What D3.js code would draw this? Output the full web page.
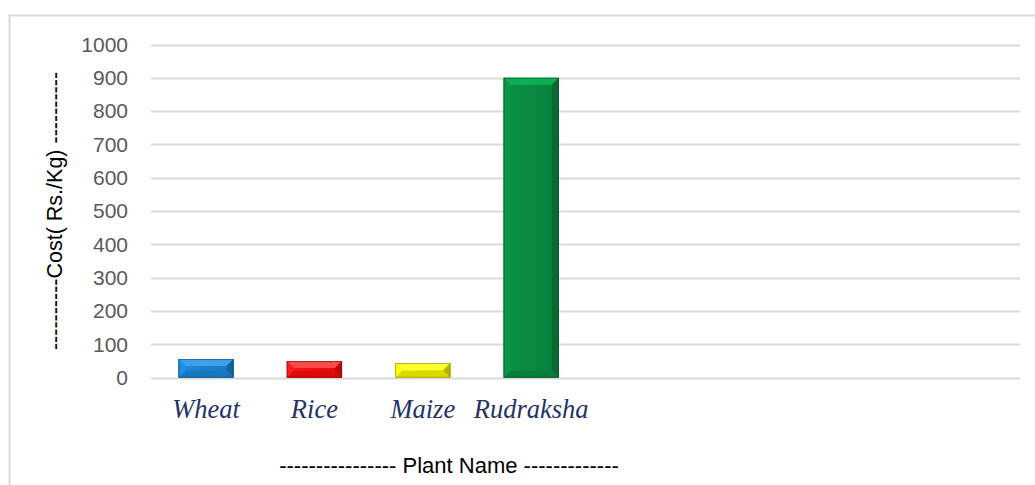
<!DOCTYPE html>
<html><head><meta charset="utf-8">
<script src="https://cdn.jsdelivr.net/npm/d3@7"></script>
<style>html,body{margin:0;padding:0;background:#fff;}svg{display:block;}</style>
</head><body>
<script>
const categories = ["Wheat", "Rice", "Maize", "Rudraksha"];
const costs = [56, 50, 44, 900];
const barColors = ["#1884d4", "#f50d0d", "#f2f200", "#0a8c42"];
const yTicks = [0, 100, 200, 300, 400, 500, 600, 700, 800, 900, 1000];
const yTitle = "----------Cost( Rs./Kg) ----------";
const xTitle = "---------------- Plant Name -------------";

const W = 1035, H = 485;
const svg = d3.select("body").append("svg").attr("width", W).attr("height", H);

// frame
svg.append("path").attr("d", `M9.5,${H+5} V15.5 H${W+5}`)
  .attr("fill", "none").attr("stroke", "#d9d9d9").attr("stroke-width", 2);

const plotL = 151, plotR = 1020;
const y = d3.scaleLinear().domain([0, 1000]).range([377.7, 44.5]);
const x = d3.scaleBand().domain(categories).range([151.8, 585.4]).paddingInner(0.49).paddingOuter(0.245);

// grid
svg.append("g").selectAll("line").data(yTicks).join("line")
  .attr("x1", plotL).attr("x2", plotR)
  .attr("y1", d => Math.round(y(d)) + 0.5).attr("y2", d => Math.round(y(d)) + 0.5)
  .attr("stroke", "#d9d9d9").attr("stroke-width", 2);

// y axis labels
const yAxis = d3.axisLeft(y).tickValues(yTicks).tickFormat(d3.format("d")).tickSize(0).tickPadding(0);
const gy = svg.append("g").attr("transform", "translate(128,0)").call(yAxis);
gy.select(".domain").remove();
gy.selectAll("text").attr("font-family", "'Liberation Sans', Arial, sans-serif")
  .attr("font-size", 21).attr("fill", "#595959");

// bars with bevel
const defs = svg.append("defs");
function shade(c, k) { const h = d3.hsl(c); h.l = Math.max(0, Math.min(1, h.l * k)); return h.formatHex(); }
const bars = svg.append("g");
categories.forEach((c, i) => {
  const x0 = x(c), bw = x.bandwidth(), y0 = y(costs[i]), y1 = y(0);
  const col = barColors[i];
  const b = Math.min(7, (y1 - y0) / 2);
  const gid = "g" + i;
  const g = defs.append("linearGradient").attr("id", gid).attr("x1", 0).attr("x2", 1).attr("y1", 0).attr("y2", 0);
  g.append("stop").attr("offset", "0%").attr("stop-color", shade(col, 1.05));
  g.append("stop").attr("offset", "100%").attr("stop-color", shade(col, 0.92));
  const gg = bars.append("g");
  gg.append("rect").attr("x", x0).attr("y", y0).attr("width", bw).attr("height", y1 - y0).attr("fill", `url(#${gid})`);
  gg.append("path").attr("d", `M${x0},${y0} L${x0+bw},${y0} L${x0+bw-b},${y0+b} L${x0+b},${y0+b} Z`).attr("fill", shade(col, 1.25));
  gg.append("path").attr("d", `M${x0},${y0} L${x0+b},${y0+b} L${x0+b},${y1-b} L${x0},${y1} Z`).attr("fill", shade(col, 1.08));
  gg.append("path").attr("d", `M${x0+bw},${y0} L${x0+bw-b},${y0+b} L${x0+bw-b},${y1-b} L${x0+bw},${y1} Z`).attr("fill", shade(col, 0.75));
  gg.append("path").attr("d", `M${x0},${y1} L${x0+b},${y1-b} L${x0+bw-b},${y1-b} L${x0+bw},${y1} Z`).attr("fill", shade(col, 0.9));
  gg.append("rect").attr("x", x0+0.5).attr("y", y0+0.5).attr("width", bw-1).attr("height", y1-y0-1)
    .attr("fill", "none").attr("stroke", shade(col, 0.55)).attr("stroke-width", 1).attr("stroke-opacity", 0.6);
});

// x axis labels
const xAxis = d3.axisBottom(x).tickSize(0).tickPadding(0);
const gx = svg.append("g").attr("transform", "translate(0,418)").call(xAxis);
gx.select(".domain").remove();
gx.selectAll("text").attr("dy", 0).attr("font-family", "'Liberation Serif', 'Times New Roman', serif")
  .attr("font-style", "italic").attr("font-size", 26.5).attr("fill", "#1f3468");

// titles
svg.append("text").attr("x", 449).attr("y", 473).attr("text-anchor", "middle")
  .attr("font-family", "'Liberation Sans', Arial, sans-serif").attr("font-size", 22).attr("fill", "#000")
  .text(xTitle);
svg.append("text").attr("transform", "translate(62,211) rotate(-90)").attr("text-anchor", "middle")
  .attr("font-family", "'Liberation Sans', Arial, sans-serif").attr("font-size", 21.5).attr("fill", "#000")
  .text(yTitle);
</script>
</body></html>
